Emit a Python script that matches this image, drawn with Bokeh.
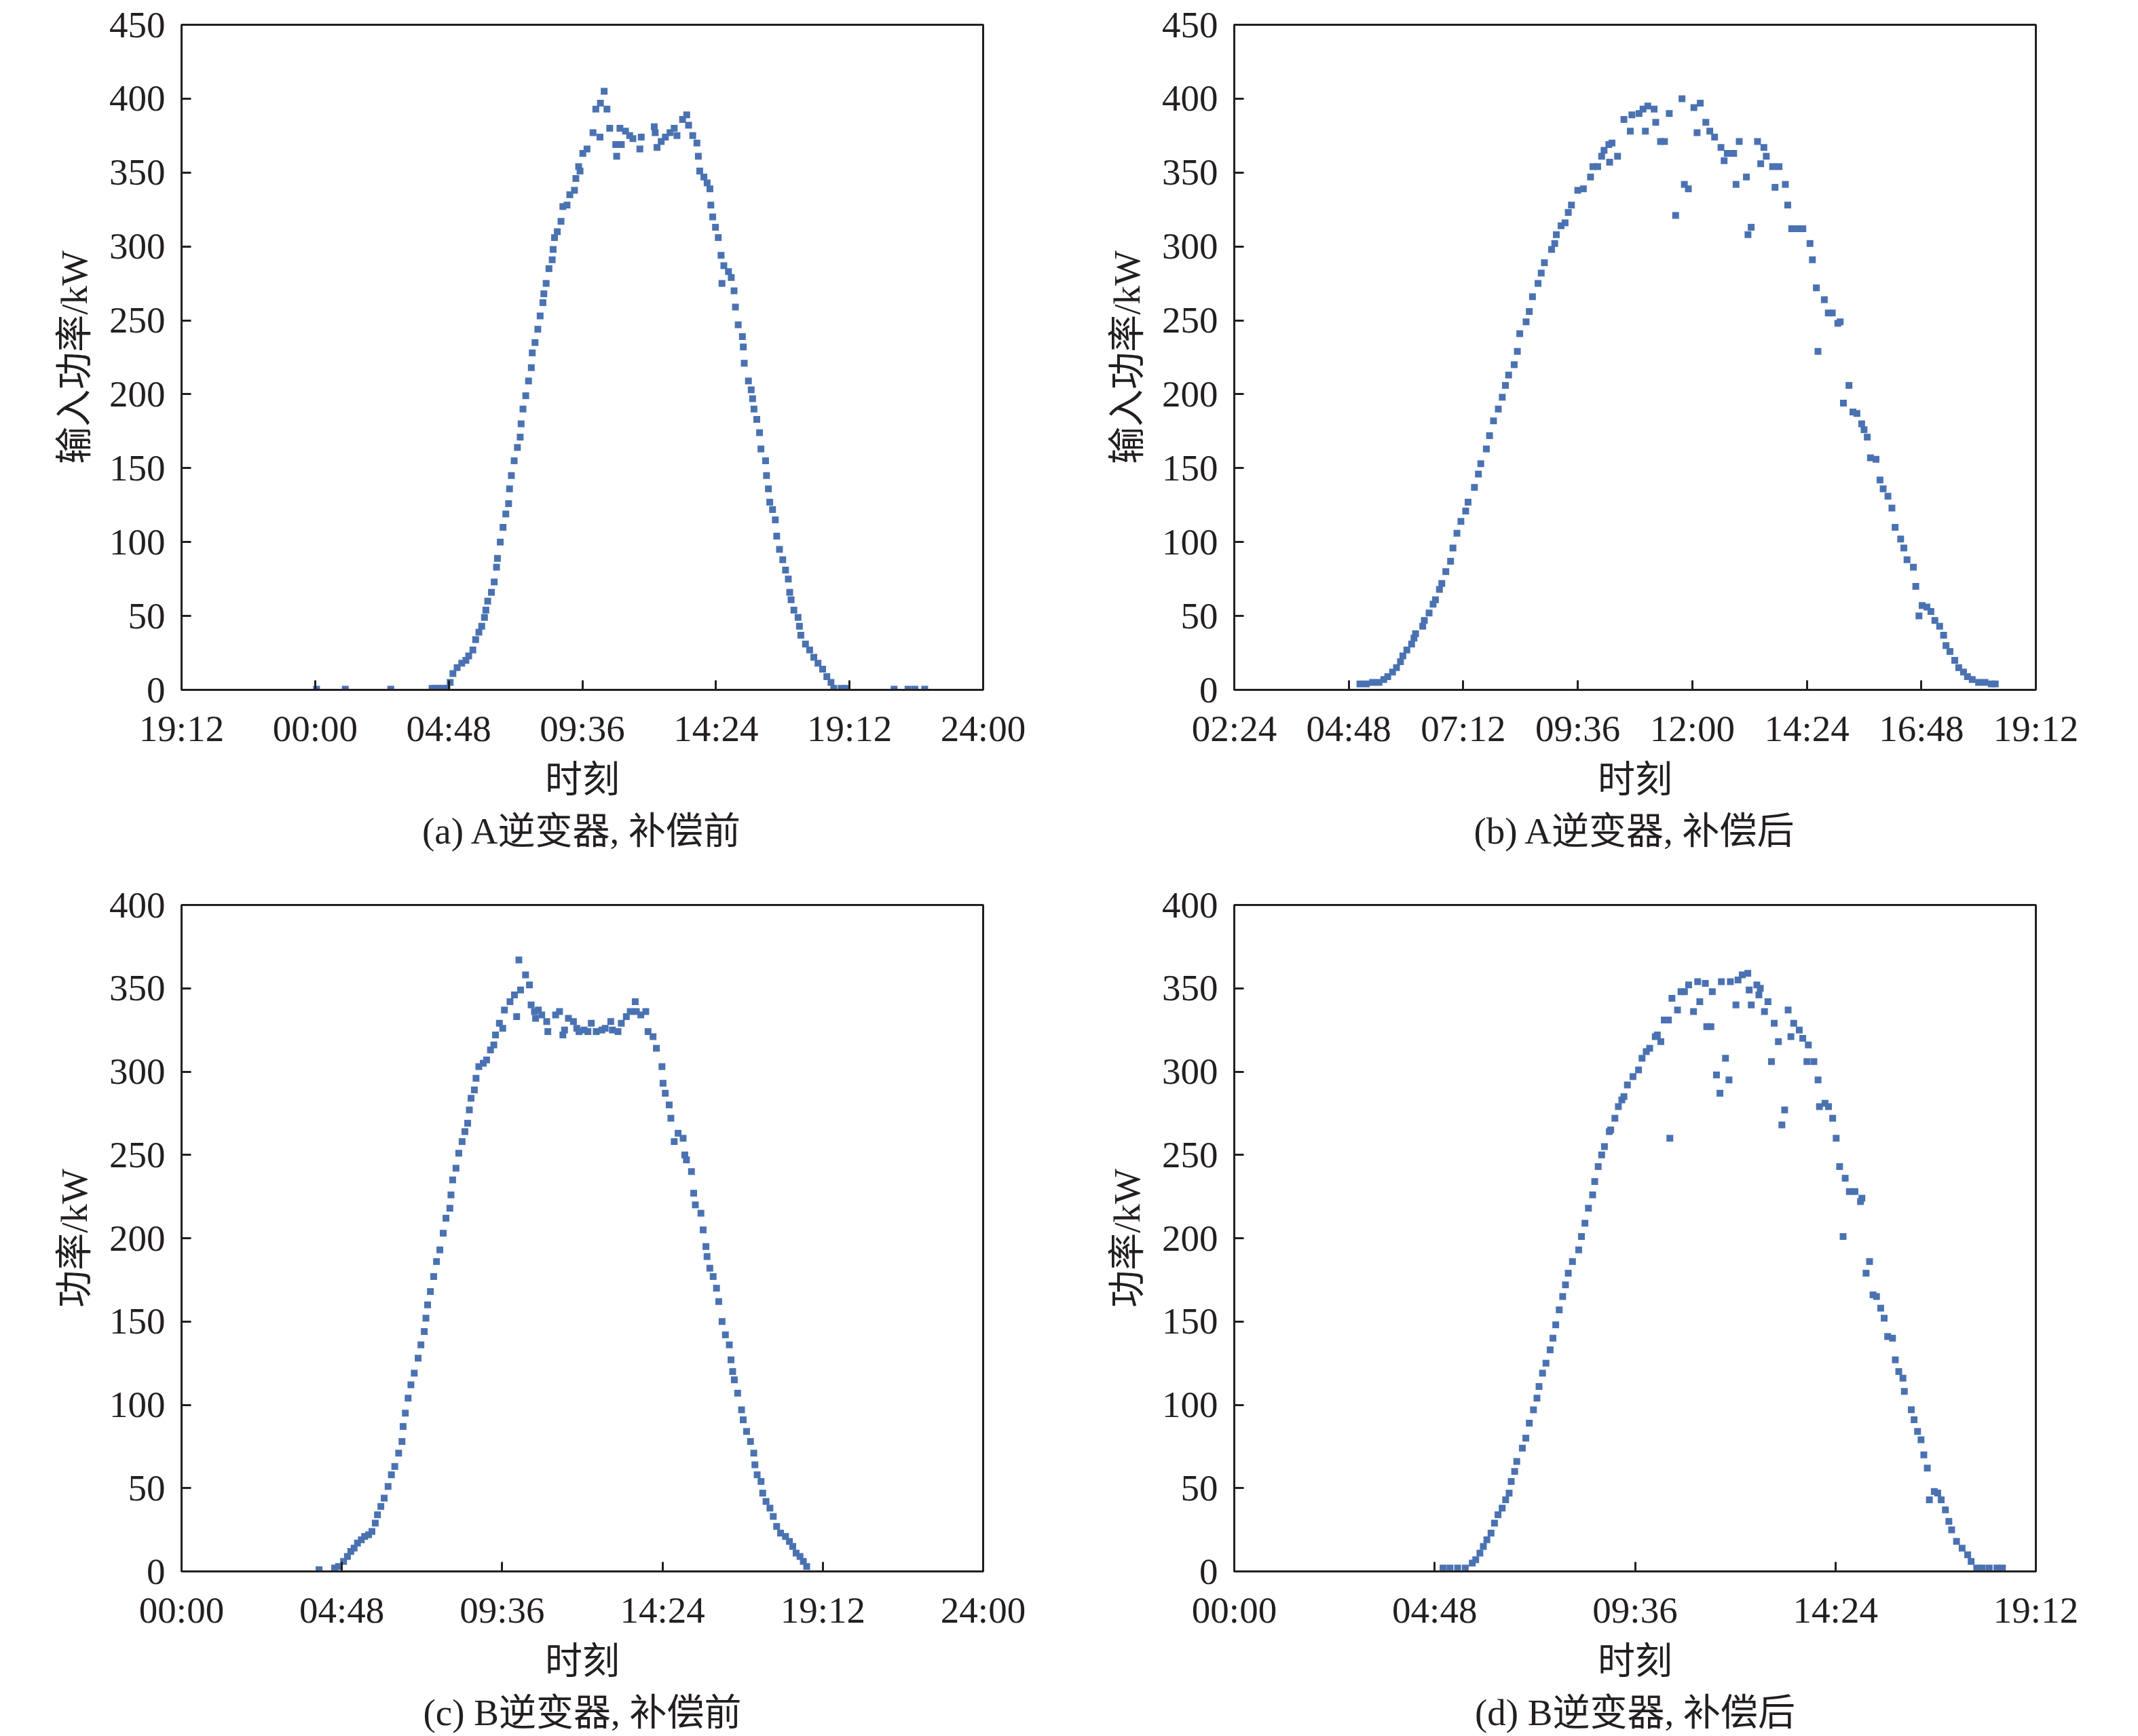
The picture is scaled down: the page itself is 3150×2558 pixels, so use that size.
from bokeh.plotting import figure
from bokeh.models import Range1d, FixedTicker, Title
from bokeh.layouts import column, row
from bokeh.embed import file_html
from bokeh.resources import INLINE

# ---------------- data (time in minutes after 00:00, power in kW) ----------------
a_time = [3, 65, 163, 252, 260, 268, 276, 284, 291, 297, 306, 316, 325, 331, 340, 346, 353, 359, 365, 368,
          372, 380, 386, 391, 393, 399, 405, 411, 417, 419, 423, 429, 436, 442, 444, 448, 454, 460, 466, 468,
          474, 480, 485, 491, 493, 498, 504, 511, 513, 516, 522, 530, 534, 543, 549, 559, 562, 571, 568, 577,
          586, 599, 614, 605, 615, 623, 629, 635, 648, 650, 657, 660, 669, 678, 685, 700, 703, 731, 733, 737,
          746, 755, 765, 774, 780, 792, 801, 805, 814, 823, 826, 829, 838, 845, 851, 853, 857, 863, 869, 875,
          881, 891, 897, 877, 903, 906, 912, 921, 923, 925, 934, 940, 943, 946, 952, 958, 961, 971, 973, 977,
          980, 986, 992, 995, 1001, 1008, 1014, 1020, 1023, 1026, 1032, 1041, 1044, 1047, 1057, 1066, 1075, 1084, 1094, 1103,
          1112, 1118, 1134, 1146, 1248, 1278, 1293, 1314]
a_power = [0.5, 0.5, 0.5, 1, 1, 1, 1, 1, 5, 11, 15, 18, 20, 23, 27, 34, 39, 43, 49, 54,
           60, 66, 73, 83, 89, 100, 110, 119, 126, 136, 145, 155, 164, 171, 180, 190, 199, 209, 218, 228,
           235, 244, 253, 262, 268, 275, 285, 291, 298, 306, 310, 317, 327, 328, 335, 338, 346, 351, 354, 363,
           366, 377, 374, 393, 397, 405, 393, 380, 369, 361, 380, 369, 378, 375, 373, 366, 374, 381, 377, 367,
           371, 374, 377, 380, 375, 386, 389, 382, 375, 370, 361, 351, 347, 343, 339, 328, 320, 313, 306, 294,
           287, 283, 279, 275, 270, 259, 247, 239, 232, 221, 209, 203, 197, 190, 183, 174, 163, 155, 145, 136,
           127, 122, 115, 104, 95, 88, 81, 75, 66, 61, 54, 49, 43, 37, 31, 27, 22, 18, 14, 9,
           5, 1, 1, 1, 0.5, 0.5, 0.5, 0.5]

b_time = [302, 310, 318, 326, 332, 337, 343, 348, 353, 356, 361, 367, 370, 372, 381, 383, 389, 394, 397, 402,
          405, 410, 416, 419, 424, 429, 435, 438, 446, 451, 454, 461, 465, 470, 476, 481, 485, 489, 496, 500,
          503, 511, 515, 519, 526, 530, 534, 543, 547, 549, 555, 560, 564, 568, 576, 583, 592, 595, 601, 606,
          609, 615, 619, 616, 626, 634, 642, 644, 653, 658, 664, 672, 661, 674, 680, 685, 691, 699, 707, 710,
          715, 722, 730, 726, 737, 742, 748, 756, 760, 764, 772, 775, 779, 788, 790, 794, 802, 806, 810, 813,
          821, 829, 824, 837, 840, 845, 853, 859, 868, 871, 876, 878, 886, 891, 896, 903, 906, 910, 917, 922,
          927, 933, 936, 940, 944, 951, 956, 960, 966, 971, 975, 982, 986, 990, 998, 1001, 1005, 1009, 1015, 1020,
          1025, 1031, 1036, 1039, 1044, 1050, 1055, 1061, 1066, 1072, 1080, 1088, 1096, 1101]
b_power = [4, 4, 5, 5, 7, 9, 12, 15, 19, 23, 27, 31, 35, 38, 43, 47, 52, 58, 61, 68,
           72, 80, 87, 96, 106, 114, 121, 127, 137, 146, 153, 163, 172, 182, 190, 198, 206, 213, 220, 229,
           241, 249, 256, 266, 275, 282, 289, 298, 302, 308, 314, 316, 323, 328, 338, 339, 347, 354, 354, 361,
           365, 369, 370, 357, 361, 386, 378, 389, 390, 393, 395, 393, 378, 384, 371, 371, 390, 321, 400, 342,
           339, 394, 397, 377, 384, 378, 374, 367, 358, 363, 363, 342, 371, 347, 308, 313, 371, 356, 367, 361,
           354, 354, 340, 342, 328, 312, 312, 312, 302, 291, 272, 229, 264, 255, 255, 248, 249, 194, 206, 188,
           187, 180, 176, 171, 157, 156, 142, 136, 131, 123, 110, 102, 96, 88, 83, 70, 50, 57, 56, 53,
           47, 43, 37, 30, 26, 20, 15, 12, 9, 7, 5, 5, 4, 4]

c_time = [247, 275, 282, 291, 298, 304, 310, 316, 323, 329, 336, 342, 348, 352, 358, 364, 371, 377, 383, 390,
          396, 398, 402, 407, 412, 418, 425, 430, 436, 439, 442, 447, 453, 458, 464, 470, 475, 482, 484, 487,
          493, 498, 504, 509, 514, 517, 520, 526, 529, 534, 542, 548, 555, 561, 564, 571, 577, 580, 590, 602,
          598, 609, 606, 618, 625, 628, 634, 641, 636, 647, 656, 658, 672, 679, 685, 688, 695, 704, 710, 714,
          723, 730, 736, 745, 755, 761, 771, 774, 784, 790, 799, 806, 815, 817, 825, 834, 838, 847, 853, 863,
          865, 869, 876, 879, 885, 892, 901, 904, 907, 916, 920, 923, 933, 937, 942, 944, 949, 955, 961, 965,
          971, 977, 984, 987, 990, 993, 999, 1006, 1009, 1015, 1022, 1028, 1030, 1034, 1041, 1044, 1050, 1057, 1063, 1069,
          1076, 1085, 1092, 1098, 1104, 1111, 1117, 1123]
c_power = [1, 2, 3, 6, 9, 12, 14, 17, 19, 21, 22, 24, 29, 34, 39, 44, 51, 58, 63, 71,
           78, 87, 95, 104, 112, 119, 128, 136, 144, 152, 160, 168, 177, 186, 193, 203, 212, 218, 226, 235,
           242, 251, 258, 264, 269, 277, 284, 289, 296, 303, 305, 307, 313, 316, 322, 329, 326, 337, 342, 333,
           346, 349, 367, 358, 352, 340, 336, 337, 332, 334, 330, 324, 334, 336, 322, 325, 332, 330, 326, 324,
           325, 324, 329, 324, 325, 326, 330, 325, 324, 329, 333, 336, 342, 336, 334, 336, 324, 321, 314, 303,
           293, 287, 280, 272, 258, 263, 260, 250, 247, 240, 227, 220, 215, 205, 195, 189, 182, 177, 170, 162,
           150, 142, 136, 127, 120, 115, 107, 97, 91, 84, 78, 71, 64, 58, 54, 47, 42, 38, 33, 27,
           23, 21, 18, 15, 11, 9, 6, 3]

d_time = [300, 310, 321, 332, 342, 347, 353, 358, 363, 369, 374, 379, 385, 390, 395, 398, 403, 406, 414, 419,
          424, 430, 435, 438, 443, 448, 454, 458, 462, 467, 472, 476, 480, 486, 495, 499, 504, 509, 515, 518,
          523, 528, 532, 539, 541, 547, 552, 557, 560, 565, 573, 581, 586, 592, 597, 605, 608, 613, 618, 624,
          629, 637, 642, 647, 653, 660, 666, 669, 677, 679, 685, 687, 693, 698, 706, 711, 626, 700, 713, 721,
          724, 730, 738, 740, 743, 751, 754, 756, 762, 767, 772, 776, 782, 787, 791, 796, 800, 804, 812, 817,
          825, 823, 833, 839, 841, 849, 854, 860, 865, 870, 878, 884, 892, 900, 902, 875, 908, 913, 918, 923,
          929, 934, 939, 946, 950, 955, 961, 963, 973, 977, 982, 987, 991, 996, 999, 1006, 1011, 1016, 1022, 1027,
          1031, 1038, 1046, 1054, 1059, 1067, 1075, 1085, 1096, 1104]
d_power = [2, 2, 2, 2, 5, 7, 11, 15, 19, 23, 29, 34, 38, 43, 47, 54, 60, 66, 74, 80,
           89, 97, 104, 111, 119, 125, 133, 140, 148, 157, 165, 172, 179, 186, 193, 201, 209, 218, 226, 234,
           243, 250, 255, 264, 265, 272, 279, 283, 285, 292, 297, 301, 308, 312, 314, 321, 322, 318, 331, 331,
           344, 337, 348, 348, 352, 336, 354, 342, 353, 327, 327, 348, 298, 287, 308, 295, 260, 354, 354, 340,
           355, 358, 359, 349, 340, 352, 346, 350, 336, 342, 306, 329, 318, 268, 277, 337, 321, 329, 325, 320,
           316, 306, 306, 295, 279, 281, 279, 272, 260, 243, 236, 228, 228, 222, 224, 201, 179, 186, 166, 165,
           158, 152, 141, 140, 127, 120, 116, 108, 97, 91, 84, 79, 70, 62, 43, 48, 47, 43, 37, 30,
           25, 18, 14, 10, 6, 2, 2, 2, 2, 2]

a_xticks = [-288, 0, 288, 576, 864, 1152, 1440]
b_xticks = [144, 288, 432, 576, 720, 864, 1008, 1152]
c_xticks = [0, 288, 576, 864, 1152, 1440]
d_xticks = [0, 288, 576, 864, 1152]
ab_yticks = [0, 50, 100, 150, 200, 250, 300, 350, 400, 450]
cd_yticks = [0, 50, 100, 150, 200, 250, 300, 350, 400]

x_label = "时刻"
y_label_ab = "输入功率/kW"
y_label_cd = "功率/kW"
captions = ["(a) A逆变器, 补偿前", "(b) A逆变器, 补偿后", "(c) B逆变器, 补偿前", "(d) B逆变器, 补偿后"]

# ---------------- styling ----------------
FONT = "Liberation Serif, Noto Sans CJK SC"
FS = "55px"
INK = "#231f20"
BLUE = "#4a72b2"


def hhmm(t):
    if t == 1440:
        return "24:00"
    t = t % 1440
    return f"{t // 60:02d}:{t % 60:02d}"


def panel(xs, ys, xticks, yticks, ylabel, caption, fh, top, bottom, left, right):
    n = min(len(xs), len(ys))
    p = figure(frame_width=1181, frame_height=fh,
               x_range=Range1d(xticks[0], xticks[-1]), y_range=Range1d(yticks[0], yticks[-1]),
               output_backend="svg", toolbar_location=None,
               min_border_left=left, min_border_right=right, min_border_top=top, min_border_bottom=bottom,
               background_fill_color="white", border_fill_color="white")
    p.title.visible = False
    p.xgrid.visible = False
    p.ygrid.visible = False
    p.outline_line_color = INK
    p.outline_line_width = 3
    p.outline_line_alpha = 1

    p.scatter(xs[:n], ys[:n], marker="square", size=10, fill_color=BLUE, line_color=None)

    xa = p.xaxis[0]
    ya = p.yaxis[0]
    xa.ticker = FixedTicker(ticks=xticks, minor_ticks=[])
    xa.major_label_overrides = {t: hhmm(t) for t in xticks}
    ya.ticker = FixedTicker(ticks=yticks, minor_ticks=[])
    xa.axis_label = x_label
    ya.axis_label = ylabel
    for ax in (xa, ya):
        ax.axis_line_color = INK
        ax.axis_line_width = 3
        ax.major_tick_line_color = INK
        ax.major_tick_line_width = 3
        ax.major_tick_in = 14
        ax.major_tick_out = 0
        ax.minor_tick_in = 0
        ax.minor_tick_out = 0
        ax.major_label_text_font = FONT
        ax.major_label_text_font_size = FS
        ax.major_label_text_color = INK
        ax.axis_label_text_font = FONT
        ax.axis_label_text_font_size = FS
        ax.axis_label_text_font_style = "normal"
        ax.axis_label_text_color = INK
    xa.major_label_standoff = 26
    xa.axis_label_standoff = 11
    ya.major_label_standoff = 24
    ya.axis_label_standoff = 18

    cap = Title(text=caption, align="center", text_font=FONT, text_font_size=FS,
                text_font_style="normal", text_color=INK, standoff=20)
    p.add_layout(cap, "below")
    return p


pa = panel(a_time, a_power, a_xticks, ab_yticks, y_label_ab, captions[0], 980, 36, 280, 267, 111)
pb = panel(b_time, b_power, b_xticks, ab_yticks, y_label_ab, captions[1], 980, 36, 280, 259, 80)
pc = panel(c_time, c_power, c_xticks, cd_yticks, y_label_cd, captions[2], 982, 37, 232, 267, 111)
pd = panel(d_time, d_power, d_xticks, cd_yticks, y_label_cd, captions[3], 982, 37, 232, 259, 80)

layout = column(row(pa, pb), row(pc, pd))
open("out.html", "w").write(file_html(layout, INLINE))
